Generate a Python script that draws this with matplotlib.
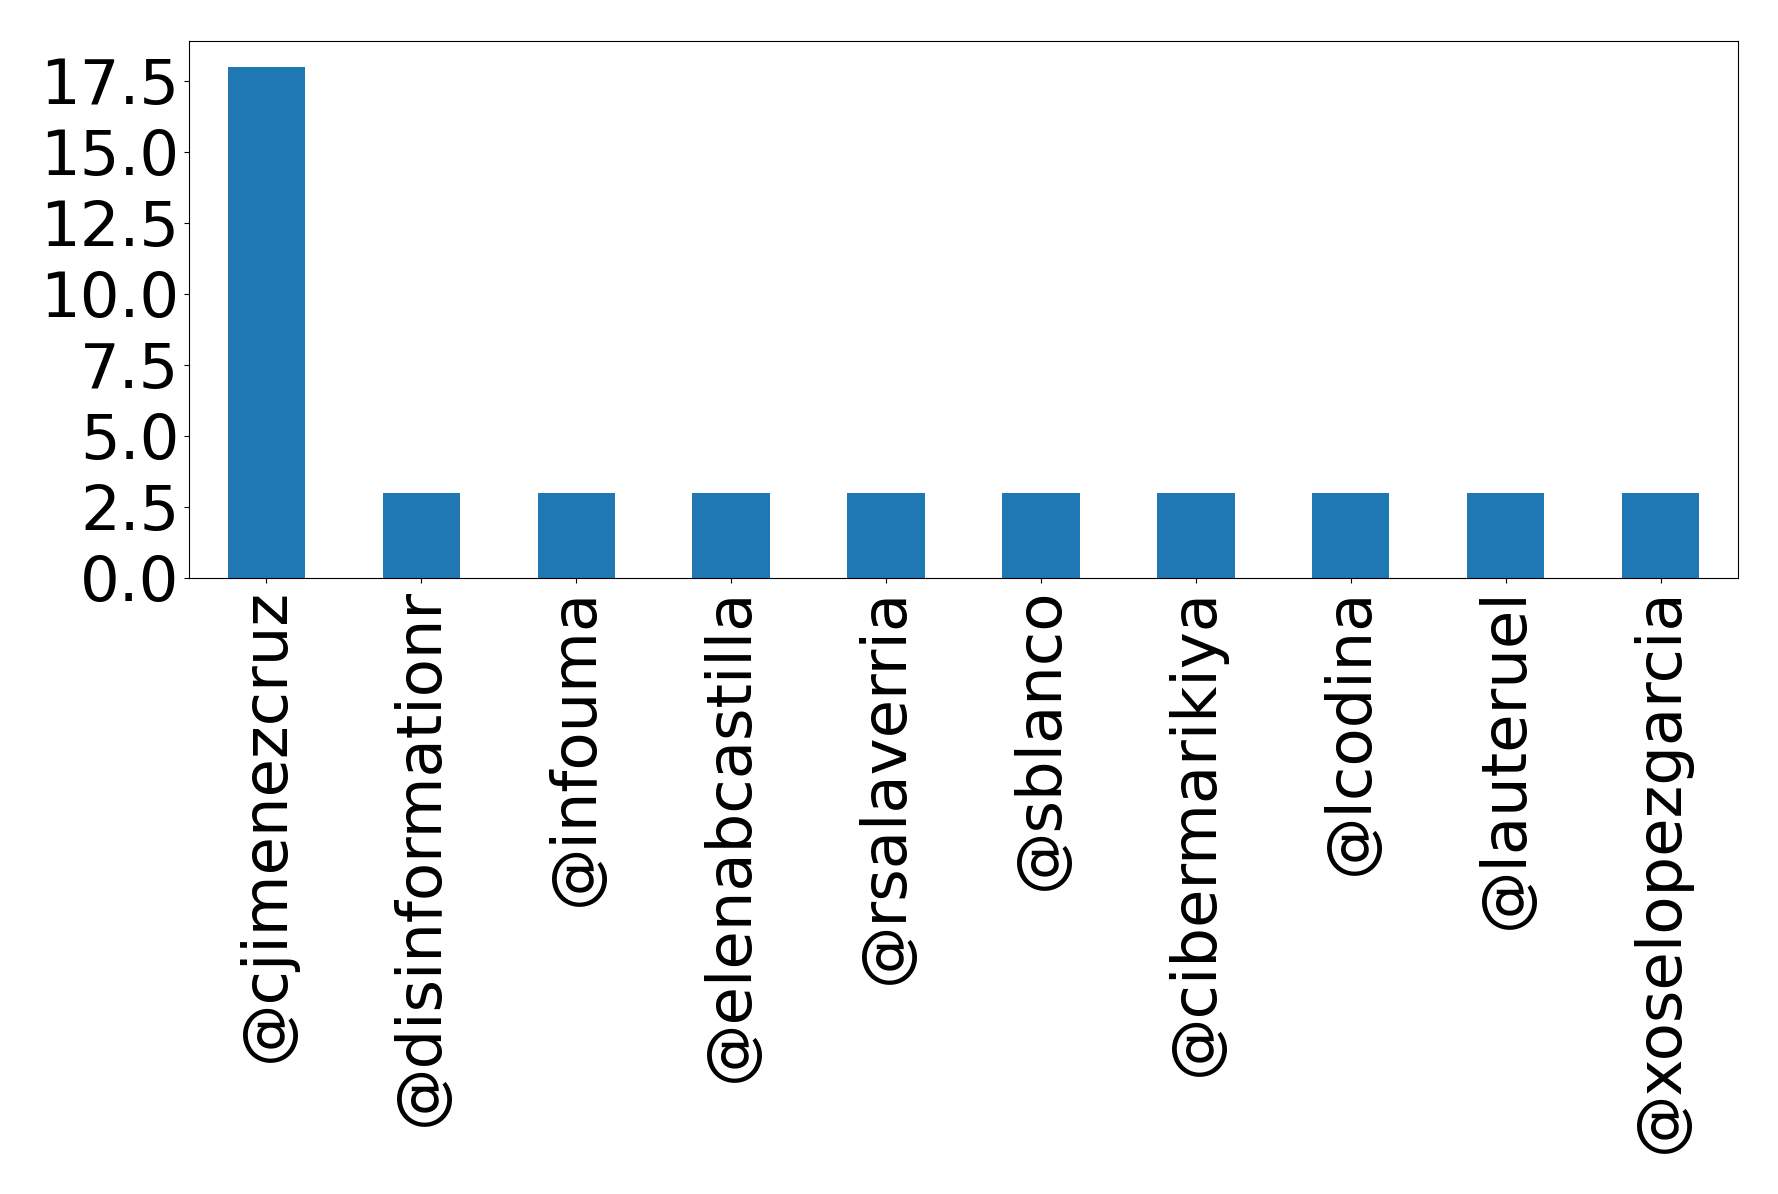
import matplotlib
matplotlib.use("Agg")
from matplotlib import pyplot as plt
import matplotlib.ticker as mtick
import pandas as pd

# account mentions
users = ['@cjimenezcruz', '@disinformationr', '@infouma', '@elenabcastilla',
         '@rsalaverria', '@sblanco', '@cibermarikiya', '@lcodina',
         '@lauteruel', '@xoselopezgarcia']
counts = [18, 3, 3, 3, 3, 3, 3, 3, 3, 3]

fig = plt.figure(figsize=(17.78, 11.94), dpi=100)
ax = fig.add_axes([189 / 1778, 1 - 578 / 1194, (1738 - 189) / 1778, (578 - 41) / 1194])

s = pd.Series(counts, index=users)
s.plot(kind='bar', ax=ax, color='#1f77b4', width=0.5)

ax.yaxis.set_major_locator(mtick.MultipleLocator(2.5))
ax.yaxis.set_major_formatter(mtick.FormatStrFormatter('%.1f'))
ax.tick_params(axis='both', labelsize=45)
plt.setp(ax.get_xticklabels(), rotation=90)

plt.savefig('out.png', dpi=100)
